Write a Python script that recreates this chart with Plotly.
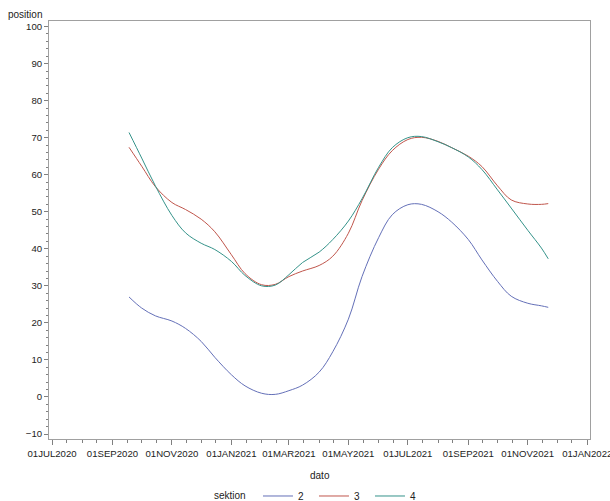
import plotly.graph_objects as go

dates = ["2020-09-18", "2020-10-01", "2020-10-15", "2020-11-01", "2020-11-15",
         "2020-12-01", "2020-12-15", "2021-01-01", "2021-01-15", "2021-02-01",
         "2021-02-15", "2021-03-01", "2021-03-15", "2021-04-01", "2021-04-15",
         "2021-05-01", "2021-05-15", "2021-06-01", "2021-06-15", "2021-07-01",
         "2021-07-15", "2021-08-01", "2021-08-15", "2021-09-01", "2021-09-15",
         "2021-10-01", "2021-10-15", "2021-11-01", "2021-11-15", "2021-11-22"]

sektion_2 = [27.0, 24.0, 21.9, 20.5, 18.5, 15.0, 10.7, 6.0, 3.0, 1.0,
             0.7, 1.7, 3.2, 6.7, 12.2, 21.0, 32.5, 43.0, 49.2, 51.9,
             52.0, 50.0, 47.2, 42.5, 37.0, 31.2, 27.2, 25.3, 24.6, 24.2]
sektion_3 = [67.4, 62.3, 56.8, 52.5, 50.6, 48.0, 44.6, 38.4, 33.3, 30.3,
             30.4, 32.5, 34.0, 35.5, 38.0, 44.2, 53.0, 61.5, 66.5, 69.5,
             70.1, 69.0, 67.3, 65.0, 62.2, 57.0, 53.2, 52.1, 52.0, 52.2]
sektion_4 = [71.4, 64.5, 57.0, 49.0, 44.3, 41.5, 39.8, 36.6, 32.8, 30.0,
             30.2, 33.0, 36.3, 39.1, 42.5, 47.5, 53.5, 62.0, 67.3, 70.0,
             70.3, 68.9, 67.3, 64.8, 61.4, 55.9, 51.0, 45.0, 40.2, 37.3]

series_names = ["2", "3", "4"]
series_values = [sektion_2, sektion_3, sektion_4]
colors = ["#6470b8", "#c0564c", "#35938a"]

x_ticks = ["2020-07-01", "2020-09-01", "2020-11-01", "2021-01-01", "2021-03-01",
           "2021-05-01", "2021-07-01", "2021-09-01", "2021-11-01", "2022-01-01"]
x_ticktext = ["01JUL2020", "01SEP2020", "01NOV2020", "01JAN2021", "01MAR2021",
              "01MAY2021", "01JUL2021", "01SEP2021", "01NOV2021", "01JAN2022"]
y_ticks = [-10, 0, 10, 20, 30, 40, 50, 60, 70, 80, 90, 100]

# minor ticks: 1st and 16th of every month
minor_x = []
for yr, mo in [(2020, m) for m in range(7, 13)] + [(2021, m) for m in range(1, 13)]:
    minor_x.append(f"{yr}-{mo:02d}-01")
    minor_x.append(f"{yr}-{mo:02d}-16")
minor_x.append("2022-01-01")

font_family = "Liberation Sans, Arial, sans-serif"
text_color = "#222222"

fig = go.Figure()
for name, vals, col in zip(series_names, series_values, colors):
    fig.add_trace(go.Scatter(
        x=dates, y=vals, mode="lines", name=name,
        line=dict(color=col, width=1, shape="spline", smoothing=1.0),
    ))

fig.update_layout(
    width=610, height=501,
    margin=dict(l=49, r=20, t=21, b=62, pad=0, autoexpand=False),
    paper_bgcolor="white", plot_bgcolor="white",
    font=dict(family=font_family, size=10, color=text_color),
    showlegend=True,
    legend=dict(
        orientation="h", xref="paper", x=0.3863, xanchor="left",
        yref="container", y=0.01, yanchor="middle",
        font=dict(size=10), entrywidth=11, entrywidthmode="pixels",
        itemwidth=30, bgcolor="rgba(0,0,0,0)",
    ),
    annotations=[
        dict(text="position", xref="paper", yref="paper", x=-0.079, y=1.0145,
             xanchor="left", yanchor="middle", showarrow=False,
             font=dict(size=10, color=text_color)),
        dict(text="dato", xref="paper", yref="paper", x=0.5, y=-0.088,
             xanchor="center", yanchor="middle", showarrow=False,
             font=dict(size=10, color=text_color)),
        dict(text="sektion", xref="paper", yref="paper", x=(212 - 49) / 541,
             y=-0.1355, xanchor="left", yanchor="middle", showarrow=False,
             font=dict(size=10, color=text_color)),
    ],
)

fig.update_xaxes(
    type="date",
    range=["2020-06-27 22:00", "2022-01-03 20:00"],
    tickmode="array", tickvals=x_ticks, ticktext=x_ticktext,
    ticks="outside", ticklen=5, tickwidth=1, tickcolor="#808080",
    tickfont=dict(size=9.6, color=text_color),
    ticklabeloverflow="allow",
    showline=True, linecolor="#a0a0a0", linewidth=1, mirror=True,
    showgrid=False, zeroline=False,
    minor=dict(tickmode="array", tickvals=minor_x, ticks="outside",
               ticklen=3, tickcolor="#808080", showgrid=False),
)
fig.update_yaxes(
    range=[-11.35, 101.5],
    tickmode="array", tickvals=y_ticks,
    ticks="outside", ticklen=4, tickwidth=1, tickcolor="#808080",
    tickfont=dict(size=9.6, color=text_color),
    showline=True, linecolor="#a0a0a0", linewidth=1, mirror=True,
    showgrid=False, zeroline=False,
    minor=dict(dtick=2, tick0=0, ticks="outside", ticklen=2,
               tickcolor="#808080", showgrid=False),
)

fig.write_html(
    "out.html",
    config={"displayModeBar": False},
    post_script="document.body.style.margin='0';document.body.style.overflow='hidden';",
)
